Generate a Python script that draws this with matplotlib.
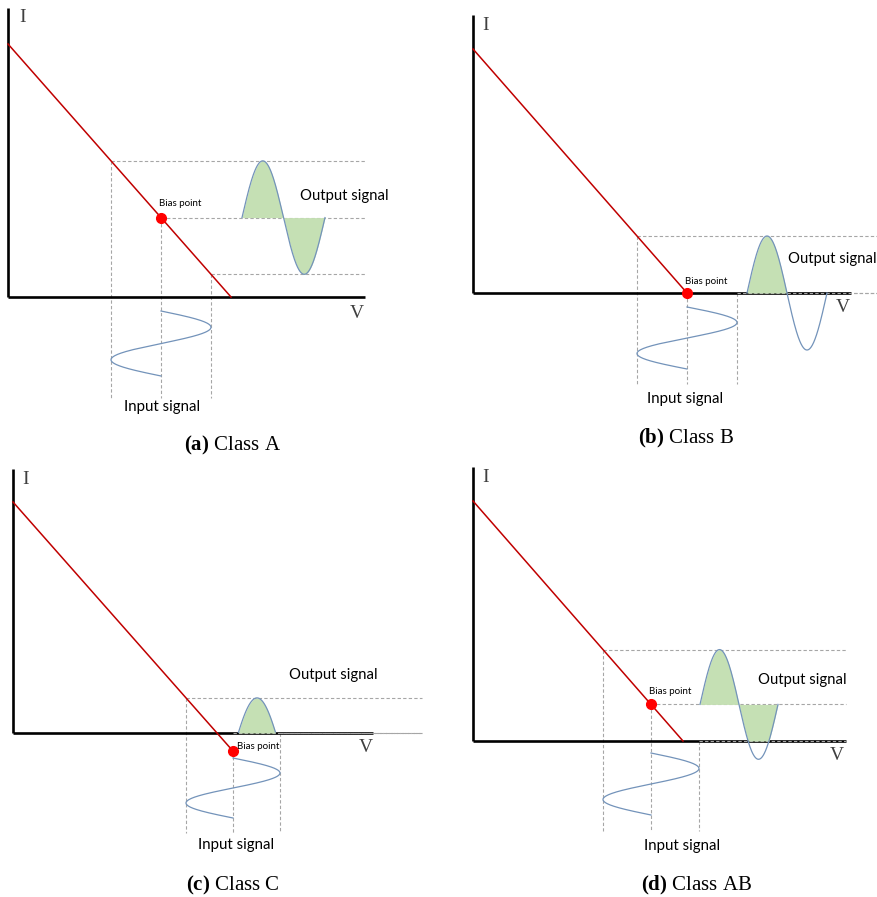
import numpy as np
import matplotlib.pyplot as plt

plt.rcParams['mathtext.fontset'] = 'custom'
plt.rcParams['mathtext.rm'] = 'Liberation Serif'
plt.rcParams['mathtext.bf'] = 'Liberation Serif:bold'

# load line / operating point values per class (units: diagram px)
classes = ["a", "b", "c", "d"]
captions = ["Class A", "Class B", "Class C", "Class AB"]
i_intercept = [253, 244, 231, 240]
v_intercept = [223, 214, 204, 210]
bias_v = [153, 214, 220, 178]
swing = [50, 50, 47, 48]

# layout per panel: axis origin in figure px, quadrant, sizes
origins = [(8, 297), (473, 293), (13, 733), (473, 741)]
quads = [(0, 0, 439, 460), (439, 0, 878, 460), (0, 460, 439, 897), (439, 460, 878, 897)]
i_axis_top = [289, 278, 264, 274]
v_axis_end = [357, 378, 360, 373]
dash_end = [358, 404, 409, 373]
dash_bottom = [-101, -91, -100, -90]
in_start = [14, 14, 25, 12]
in_period = [65, 62, 60, 62]
out_x0 = [234, 274, 220, 227]
out_period = [83, 80, 96, 78]
out_label = [(292, 101), (315, 34), (276, 58), (285, 61)]
bias_label = [(151, 93), (212, 12), (224, -13), (176, 50)]
i_label = [(15, 279), (13, 268), (13, 254), (13, 264)]
v_label = [(349, -16), (370, -14), (353, -14), (364, -14)]
in_label = [(154, -110), (212, -106), (223, -112), (209, -105)]
cap_pos = [(232, 445), (686, 438), (233, 885), (697, 885)]

W, H = 878, 897
fig = plt.figure(figsize=(W / 100, H / 100), dpi=100)

grey = '#A6A6A6'
curve = '#7393BA'
fill = '#C5E0B4'
sans = 'Lato'

for k in range(4):
    ox, oy = origins[k]
    qx0, qy0, qx1, qy1 = quads[k]
    ax = fig.add_axes([qx0 / W, 1 - qy1 / H, (qx1 - qx0) / W, (qy1 - qy0) / H])
    ax.set_xlim(qx0 - ox, qx1 - ox)
    ax.set_ylim(oy - qy1, oy - qy0)
    ax.axis('off')

    slope = i_intercept[k] / v_intercept[k]
    load = lambda v: i_intercept[k] - slope * v
    bv = bias_v[k]
    bi = load(bv)
    sw = swing[k]

    # dashed guide lines
    for v in [bv - sw, bv, bv + sw]:
        lvl = max(load(v), 0)
        z = 2.5 if lvl == 0 else 1
        ax.plot([v, dash_end[k]], [lvl, lvl], color=grey, lw=0.8, ls=(0, (3, 2)), zorder=z, clip_on=False)
        top = bi if v == bv else lvl
        ax.plot([v, v], [top, dash_bottom[k]], color=grey, lw=0.8, ls=(0, (3, 2)), zorder=1)

    # axes
    ax.plot([0, 0], [0, i_axis_top[k]], color='black', lw=1.9, zorder=3, solid_capstyle='butt')
    ax.plot([0, v_axis_end[k]], [0, 0], color='black', lw=1.9, zorder=2, solid_capstyle='butt')

    # load line
    v_end = bv if bi < 0 else v_intercept[k]
    ax.plot([0, v_end], [i_intercept[k], load(v_end)], color='#C00000', lw=1.1, zorder=4)
    ax.plot([bv], [bi], 'o', color='#FF0000', ms=7, zorder=5)

    # input signal
    s = np.linspace(0, in_period[k], 200)
    ax.plot(bv + sw * np.sin(2 * np.pi * s / in_period[k]), -(in_start[k] + s), color=curve, lw=0.9, zorder=4)

    # output signal
    x = np.linspace(out_x0[k], out_x0[k] + out_period[k], 300)
    y = bi + slope * sw * np.sin(2 * np.pi * (x - out_x0[k]) / out_period[k])
    if k == 2:
        m = y >= 0
        ax.fill_between(x[m], 0, y[m], color=fill, lw=0, zorder=3)
        ax.plot(x[m], y[m], color=curve, lw=0.9, zorder=4)
    else:
        base = max(bi, 0)
        ax.fill_between(x, base, np.maximum(y, 0), color=fill, lw=0, zorder=3)
        ax.plot(x, y, color=curve, lw=0.9, zorder=4)

    ax.text(*out_label[k], "Output signal", fontsize=10.7, family=sans, va='center', ha='left')
    ax.text(*bias_label[k], "Bias point", fontsize=7, family=sans, va='center', ha='left')
    ax.text(*in_label[k], "Input signal", fontsize=10.8, family=sans, va='center', ha='center')
    ax.text(*i_label[k], "I", fontsize=14, family='Liberation Serif', color='#404040', va='center', ha='center')
    ax.text(*v_label[k], "V", fontsize=14, family='Liberation Serif', color='#404040', va='center', ha='center')

    cx, cy = cap_pos[k]
    fig.text(cx / W, 1 - cy / H, r"$\mathbf{(%s)}$ %s" % (classes[k], captions[k]),
             fontsize=15, family='Liberation Serif', ha='center', va='center')

fig.savefig('out.png', dpi=100)
